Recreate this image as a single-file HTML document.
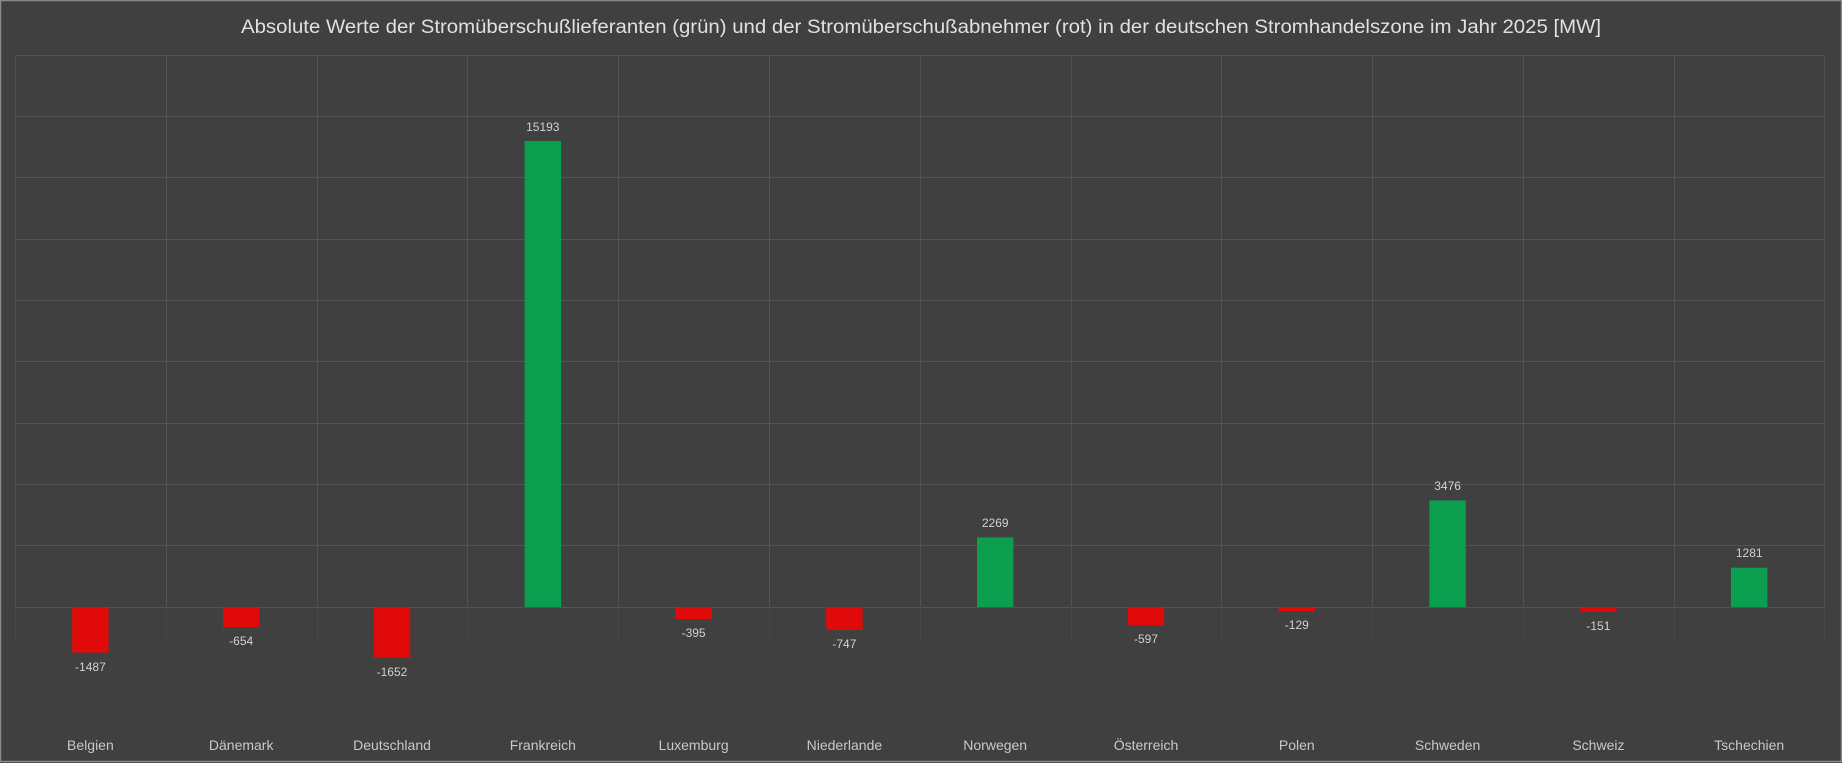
<!DOCTYPE html>
<html><head><meta charset="utf-8"><style>
html,body{margin:0;padding:0;background:#404040}
svg{display:block}
</style></head><body>
<svg width="1842" height="763" xmlns="http://www.w3.org/2000/svg" font-family="Liberation Sans, sans-serif">
<rect x="0" y="0" width="1842" height="763" fill="#404040"/>
<rect x="0.5" y="0.5" width="1841" height="761" fill="none" stroke="#8a8a8a" stroke-width="1.5"/>
<text x="921" y="33" text-anchor="middle" font-size="19" fill="#e0e0e0" textLength="1360" lengthAdjust="spacingAndGlyphs">Absolute Werte der Stromüberschußlieferanten (grün) und der Stromüberschußabnehmer (rot) in der deutschen Stromhandelszone im Jahr 2025 [MW]</text>
<g stroke="#535353" stroke-width="1">
<line x1="15" x2="1825" y1="55.5" y2="55.5"/>
<line x1="15" x2="1825" y1="116.5" y2="116.5"/>
<line x1="15" x2="1825" y1="177.5" y2="177.5"/>
<line x1="15" x2="1825" y1="239.5" y2="239.5"/>
<line x1="15" x2="1825" y1="300.5" y2="300.5"/>
<line x1="15" x2="1825" y1="361.5" y2="361.5"/>
<line x1="15" x2="1825" y1="423.5" y2="423.5"/>
<line x1="15" x2="1825" y1="484.5" y2="484.5"/>
<line x1="15" x2="1825" y1="545.5" y2="545.5"/>
<line x1="15" x2="1825" y1="607.5" y2="607.5"/>
</g>
<g stroke="#535353" stroke-width="1">
<line x1="15.5" x2="15.5" y1="55" y2="607"/>
<line x1="166.5" x2="166.5" y1="55" y2="607"/>
<line x1="317.5" x2="317.5" y1="55" y2="607"/>
<line x1="467.5" x2="467.5" y1="55" y2="607"/>
<line x1="618.5" x2="618.5" y1="55" y2="607"/>
<line x1="769.5" x2="769.5" y1="55" y2="607"/>
<line x1="920.5" x2="920.5" y1="55" y2="607"/>
<line x1="1071.5" x2="1071.5" y1="55" y2="607"/>
<line x1="1221.5" x2="1221.5" y1="55" y2="607"/>
<line x1="1372.5" x2="1372.5" y1="55" y2="607"/>
<line x1="1523.5" x2="1523.5" y1="55" y2="607"/>
<line x1="1674.5" x2="1674.5" y1="55" y2="607"/>
<line x1="1824.5" x2="1824.5" y1="55" y2="607"/>
</g>
<g stroke="#474747" stroke-width="1">
<line x1="15.5" x2="15.5" y1="607" y2="640"/>
<line x1="166.5" x2="166.5" y1="607" y2="640"/>
<line x1="317.5" x2="317.5" y1="607" y2="640"/>
<line x1="467.5" x2="467.5" y1="607" y2="640"/>
<line x1="618.5" x2="618.5" y1="607" y2="640"/>
<line x1="769.5" x2="769.5" y1="607" y2="640"/>
<line x1="920.5" x2="920.5" y1="607" y2="640"/>
<line x1="1071.5" x2="1071.5" y1="607" y2="640"/>
<line x1="1221.5" x2="1221.5" y1="607" y2="640"/>
<line x1="1372.5" x2="1372.5" y1="607" y2="640"/>
<line x1="1523.5" x2="1523.5" y1="607" y2="640"/>
<line x1="1674.5" x2="1674.5" y1="607" y2="640"/>
<line x1="1824.5" x2="1824.5" y1="607" y2="640"/>
</g>
<g>
<rect x="72.2" y="607" width="36.4" height="45.6" fill="#e00a0a"/>
<rect x="223" y="607" width="36.4" height="20.1" fill="#e00a0a"/>
<rect x="373.8" y="607" width="36.4" height="50.7" fill="#e00a0a"/>
<rect x="524.6" y="141" width="36.4" height="466" fill="#0a9e4e"/>
<rect x="675.4" y="607" width="36.4" height="12.1" fill="#e00a0a"/>
<rect x="826.2" y="607" width="36.4" height="22.9" fill="#e00a0a"/>
<rect x="977" y="537.4" width="36.4" height="69.6" fill="#0a9e4e"/>
<rect x="1127.8" y="607" width="36.4" height="18.3" fill="#e00a0a"/>
<rect x="1278.6" y="607" width="36.4" height="4" fill="#e00a0a"/>
<rect x="1429.4" y="500.4" width="36.4" height="106.6" fill="#0a9e4e"/>
<rect x="1580.2" y="607" width="36.4" height="4.6" fill="#e00a0a"/>
<rect x="1731" y="567.7" width="36.4" height="39.3" fill="#0a9e4e"/>
</g>
<g font-size="12" fill="#d0d0d0" text-anchor="middle">
<text x="90.4" y="671">-1487</text>
<text x="241.2" y="645">-654</text>
<text x="392" y="676">-1652</text>
<text x="542.8" y="131">15193</text>
<text x="693.6" y="637">-395</text>
<text x="844.4" y="648">-747</text>
<text x="995.2" y="527">2269</text>
<text x="1146" y="643">-597</text>
<text x="1296.8" y="629">-129</text>
<text x="1447.6" y="490">3476</text>
<text x="1598.4" y="630">-151</text>
<text x="1749.2" y="557">1281</text>
</g>
<g font-size="14" fill="#c8c8c8" text-anchor="middle">
<text x="90.4" y="750">Belgien</text>
<text x="241.2" y="750">Dänemark</text>
<text x="392" y="750">Deutschland</text>
<text x="542.8" y="750">Frankreich</text>
<text x="693.6" y="750">Luxemburg</text>
<text x="844.4" y="750">Niederlande</text>
<text x="995.2" y="750">Norwegen</text>
<text x="1146" y="750">Österreich</text>
<text x="1296.8" y="750">Polen</text>
<text x="1447.6" y="750">Schweden</text>
<text x="1598.4" y="750">Schweiz</text>
<text x="1749.2" y="750">Tschechien</text>
</g>
</svg>
</body></html>
